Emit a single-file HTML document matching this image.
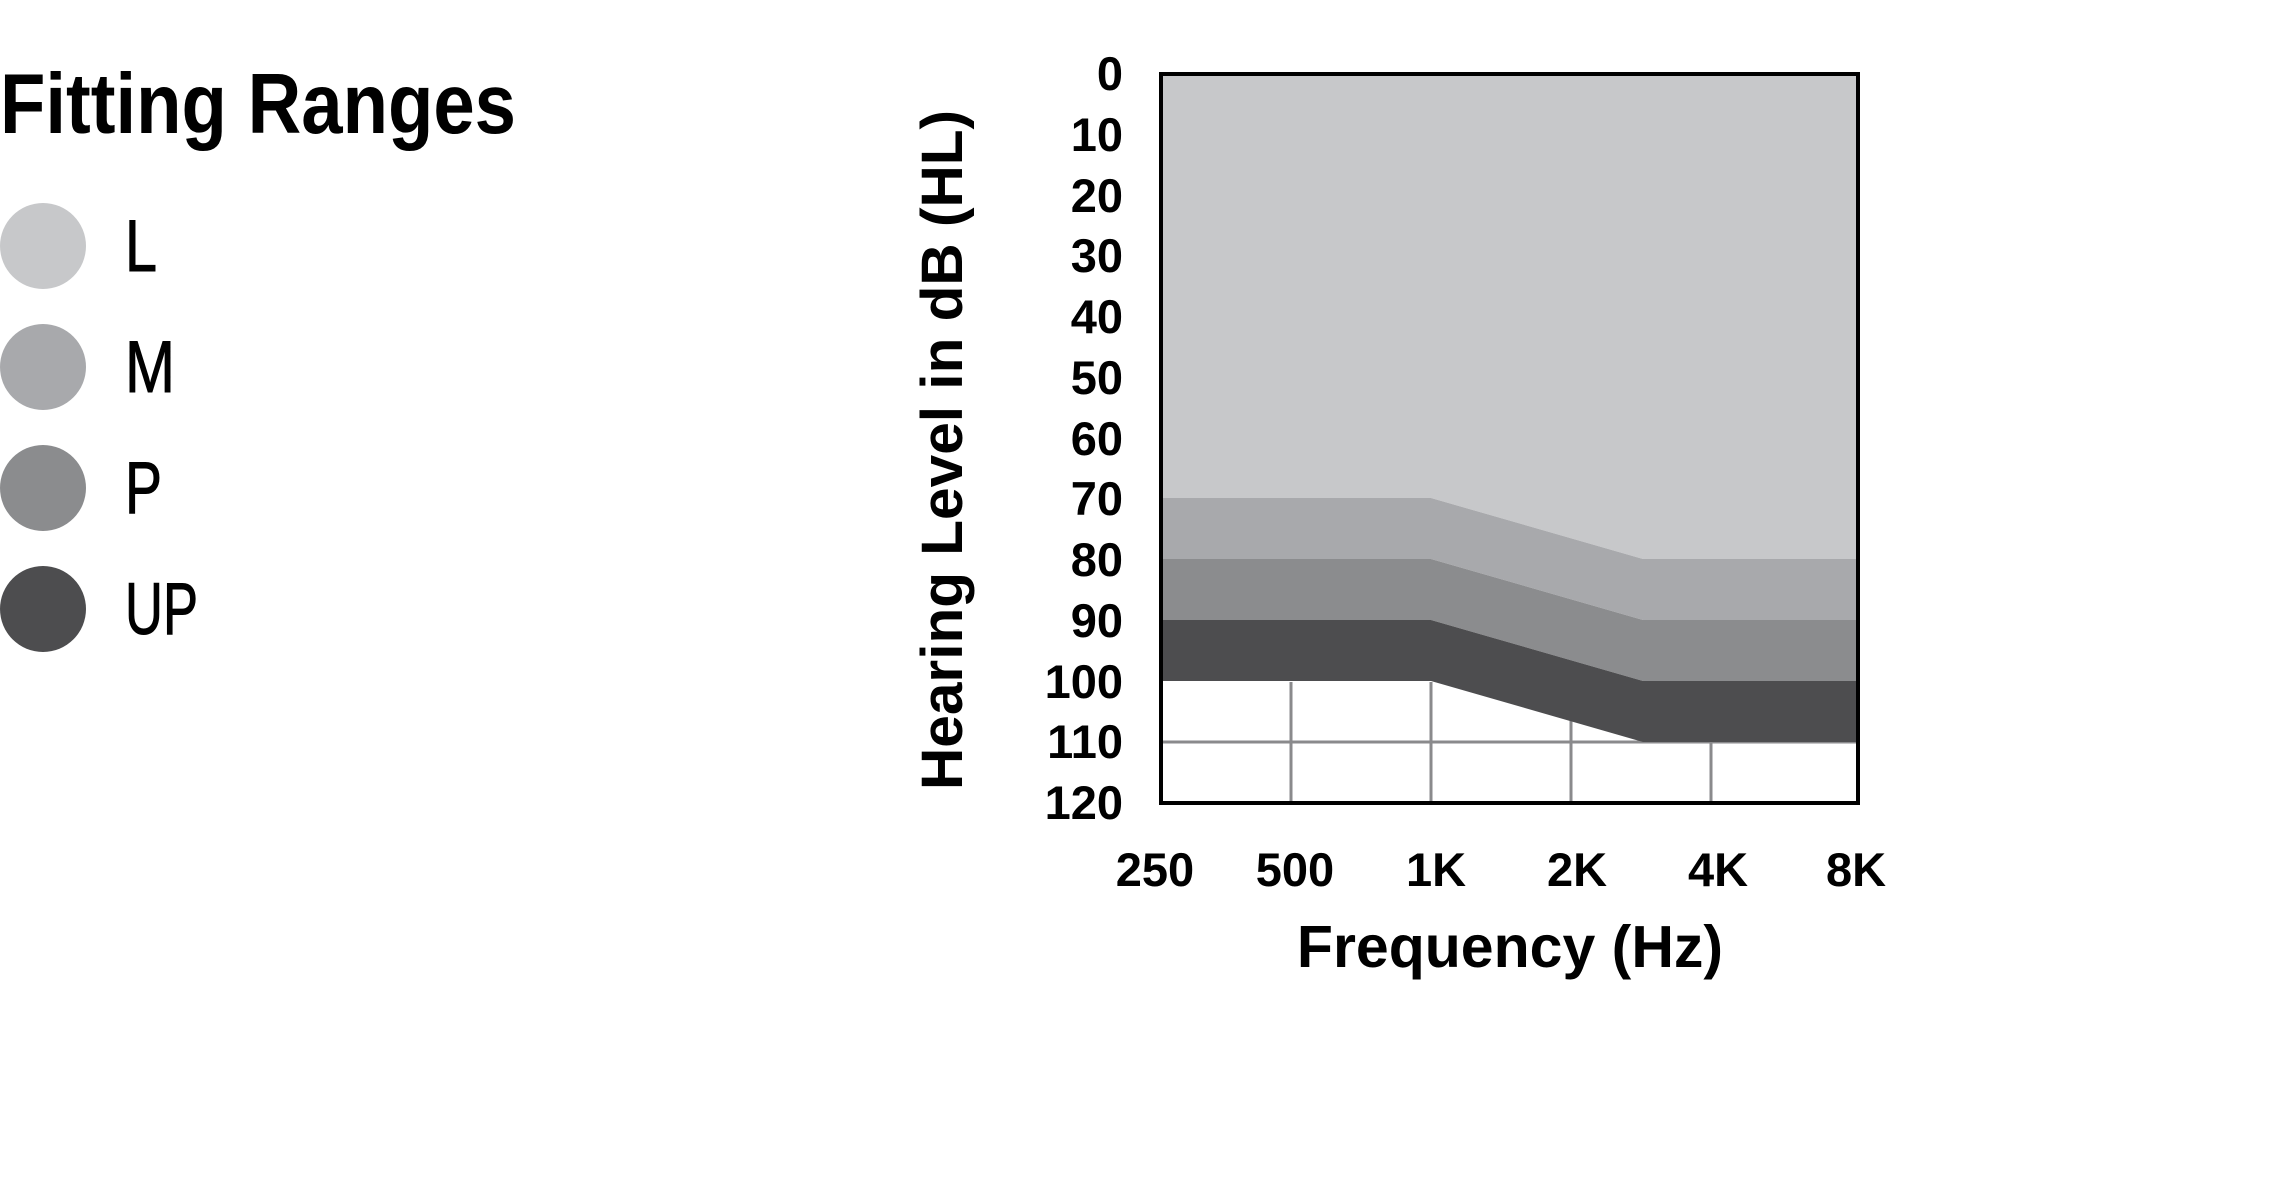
<!DOCTYPE html>
<html><head><meta charset="utf-8"><style>
html,body{margin:0;padding:0;background:#fff;}
svg{display:block;}
</style></head><body>
<svg width="2280" height="1200" viewBox="0 0 2280 1200" xmlns="http://www.w3.org/2000/svg">
<rect width="2280" height="1200" fill="#fff"/>
<!-- Legend -->
<text x="0" y="133" font-family="Liberation Sans Narrow, Liberation Sans, sans-serif" font-weight="bold" font-size="85" textLength="516" lengthAdjust="spacingAndGlyphs">Fitting Ranges</text>
<circle cx="43" cy="246" r="43" fill="#c7c8ca"/>
<circle cx="43" cy="367" r="43" fill="#a8a9ac"/>
<circle cx="43" cy="488" r="43" fill="#8b8c8e"/>
<circle cx="43" cy="609" r="43" fill="#4d4d4f"/>
<g font-family="Liberation Sans Narrow, Liberation Sans, sans-serif" font-size="73" stroke="#000" stroke-width="1">
<text x="125" y="271" textLength="32" lengthAdjust="spacingAndGlyphs">L</text>
<text x="125" y="392" textLength="50" lengthAdjust="spacingAndGlyphs">M</text>
<text x="125" y="513" textLength="37" lengthAdjust="spacingAndGlyphs">P</text>
<text x="125" y="634" textLength="73" lengthAdjust="spacingAndGlyphs">UP</text>
</g>
<!-- Chart -->
<rect x="1161" y="74" width="697" height="729" fill="#fff"/>
<g stroke="#8a8a8c" stroke-width="3">
<line x1="1161" y1="742" x2="1858" y2="742"/>
<line x1="1291" y1="682" x2="1291" y2="803"/>
<line x1="1431" y1="682" x2="1431" y2="803"/>
<line x1="1571" y1="682" x2="1571" y2="803"/>
<line x1="1711" y1="682" x2="1711" y2="803"/>
</g>
<polygon points="1161,74 1858,74 1858,559 1643,559 1431,498 1161,498" fill="#c7c8ca"/>
<polygon points="1161,498 1431,498 1643,559 1858,559 1858,620 1643,620 1431,559 1161,559" fill="#a8a9ac"/>
<polygon points="1161,559 1431,559 1643,620 1858,620 1858,681 1643,681 1431,620 1161,620" fill="#8b8c8e"/>
<polygon points="1161,620 1431,620 1643,681 1858,681 1858,742 1643,742 1431,681 1161,681" fill="#4d4d4f"/>
<rect x="1161" y="74" width="697" height="729" fill="none" stroke="#000" stroke-width="4"/>
<g font-family="Liberation Sans, sans-serif" font-weight="bold" font-size="47" text-anchor="end">
<text x="1123" y="90">0</text>
<text x="1123" y="151">10</text>
<text x="1123" y="212">20</text>
<text x="1123" y="272">30</text>
<text x="1123" y="333">40</text>
<text x="1123" y="394">50</text>
<text x="1123" y="455">60</text>
<text x="1123" y="515">70</text>
<text x="1123" y="576">80</text>
<text x="1123" y="637">90</text>
<text x="1123" y="698">100</text>
<text x="1123" y="758">110</text>
<text x="1123" y="819">120</text>
</g>
<g font-family="Liberation Sans, sans-serif" font-weight="bold" font-size="47" text-anchor="middle">
<text x="1155" y="886">250</text>
<text x="1295" y="886">500</text>
<text x="1436" y="886">1K</text>
<text x="1577" y="886">2K</text>
<text x="1718" y="886">4K</text>
<text x="1856" y="886">8K</text>
</g>
<text x="1510" y="967" font-family="Liberation Sans, sans-serif" font-weight="bold" font-size="59" text-anchor="middle">Frequency (Hz)</text>
<text transform="translate(962,450) rotate(-90)" x="0" y="0" font-family="Liberation Sans, sans-serif" font-weight="bold" font-size="58" text-anchor="middle" textLength="680" lengthAdjust="spacingAndGlyphs">Hearing Level in dB (HL)</text>
</svg>
</body></html>
